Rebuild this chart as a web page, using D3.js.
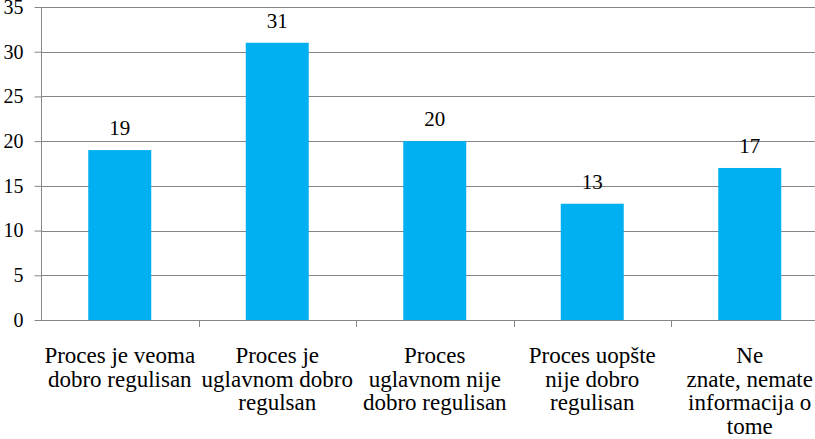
<!DOCTYPE html>
<html><head><meta charset="utf-8">
<script src="https://cdn.jsdelivr.net/npm/d3@7"></script>
<style>html,body{margin:0;padding:0;background:#fff;}svg{display:block;}
svg text{font-family:"Liberation Serif","Times New Roman",Tinos,"DejaVu Serif",serif;}</style>
</head><body>
<svg id="chart" width="815" height="439"></svg>
<script>
const categories = [
  "Proces je veoma\ndobro regulisan",
  "Proces je\nuglavnom dobro\nregulsan",
  "Proces\nuglavnom nije\ndobro regulisan",
  "Proces uopšte\nnije dobro\nregulisan",
  "Ne\nznate, nemate\ninformacija o\ntome"
];
const values = [19, 31, 20, 13, 17];
const yTicks = [0, 5, 10, 15, 20, 25, 30, 35];

const svg = d3.select("#chart");
const plotLeft = 41, plotRight = 828.5, plotTop = 7, plotBottom = 320;

const x = d3.scaleBand().domain(d3.range(categories.length)).range([plotLeft, plotRight])
  .paddingInner(0.6).paddingOuter(0.3);
const xb = d3.scaleBand().domain(d3.range(categories.length)).range([plotLeft, plotRight]);
const y = d3.scaleLinear().domain([0, 35]).range([plotBottom, plotTop]);

// gridlines
svg.append("g").selectAll("line").data(yTicks.filter(d => d > 0)).join("line")
  .attr("x1", plotLeft).attr("x2", 815).attr("y1", d => Math.round(y(d)) + 0.5).attr("y2", d => Math.round(y(d)) + 0.5)
  .attr("stroke", "#868686").attr("stroke-width", 1);

// bars
svg.append("g").selectAll("rect").data(values).join("rect")
  .attr("x", (d, i) => x(i)).attr("width", x.bandwidth())
  .attr("y", d => y(d)).attr("height", d => y(0) - y(d))
  .attr("fill", "#00B0F0");

// y axis
const yAxis = d3.axisLeft(y).tickValues(yTicks).tickSize(7).tickPadding(11).tickFormat(d3.format("d"));
const ya = svg.append("g").attr("transform", `translate(${plotLeft + 0.5},0)`).call(yAxis);
ya.attr("font-family", null).attr("font-size", null);
ya.select(".domain").attr("stroke", "#868686").attr("d", `M0,${plotTop}V${plotBottom}`);
ya.selectAll(".tick line").attr("stroke", "#868686");
ya.selectAll(".tick text").attr("font-size", 20).attr("fill", "#000");

// x axis
const xAxis = d3.axisBottom(xb).tickSize(0).tickFormat("");
const xa = svg.append("g").attr("transform", `translate(0,${plotBottom + 0.5})`).call(xAxis);
xa.select(".domain").attr("stroke", "#868686").attr("d", `M${plotLeft},0H815`);
xa.selectAll(".tick").remove();
// category boundary ticks
svg.append("g").selectAll("line").data(d3.range(1, categories.length)).join("line")
  .attr("x1", i => Math.round(xb(i)) + 0.5).attr("x2", i => Math.round(xb(i)) + 0.5)
  .attr("y1", plotBottom).attr("y2", plotBottom + 7).attr("stroke", "#868686");

// category labels
const lab = svg.append("g").selectAll("text").data(categories).join("text")
  .attr("x", (d, i) => xb(i) + xb.bandwidth() / 2)
  .attr("y", 363)
  .attr("text-anchor", "middle")
  .attr("font-size", 23).attr("fill", "#000");
lab.each(function(d) {
  const t = d3.select(this);
  d.split("\n").forEach((line, k) => {
    t.append("tspan").attr("x", t.attr("x")).attr("dy", k === 0 ? 0 : 23.5).text(line);
  });
});

// value labels
svg.append("g").selectAll("text").data(values).join("text")
  .attr("x", (d, i) => x(i) + x.bandwidth() / 2)
  .attr("y", d => y(d) - 15)
  .attr("text-anchor", "middle")
  .attr("font-size", 21).attr("fill", "#000")
  .text(d => d);
</script>
</body></html>
